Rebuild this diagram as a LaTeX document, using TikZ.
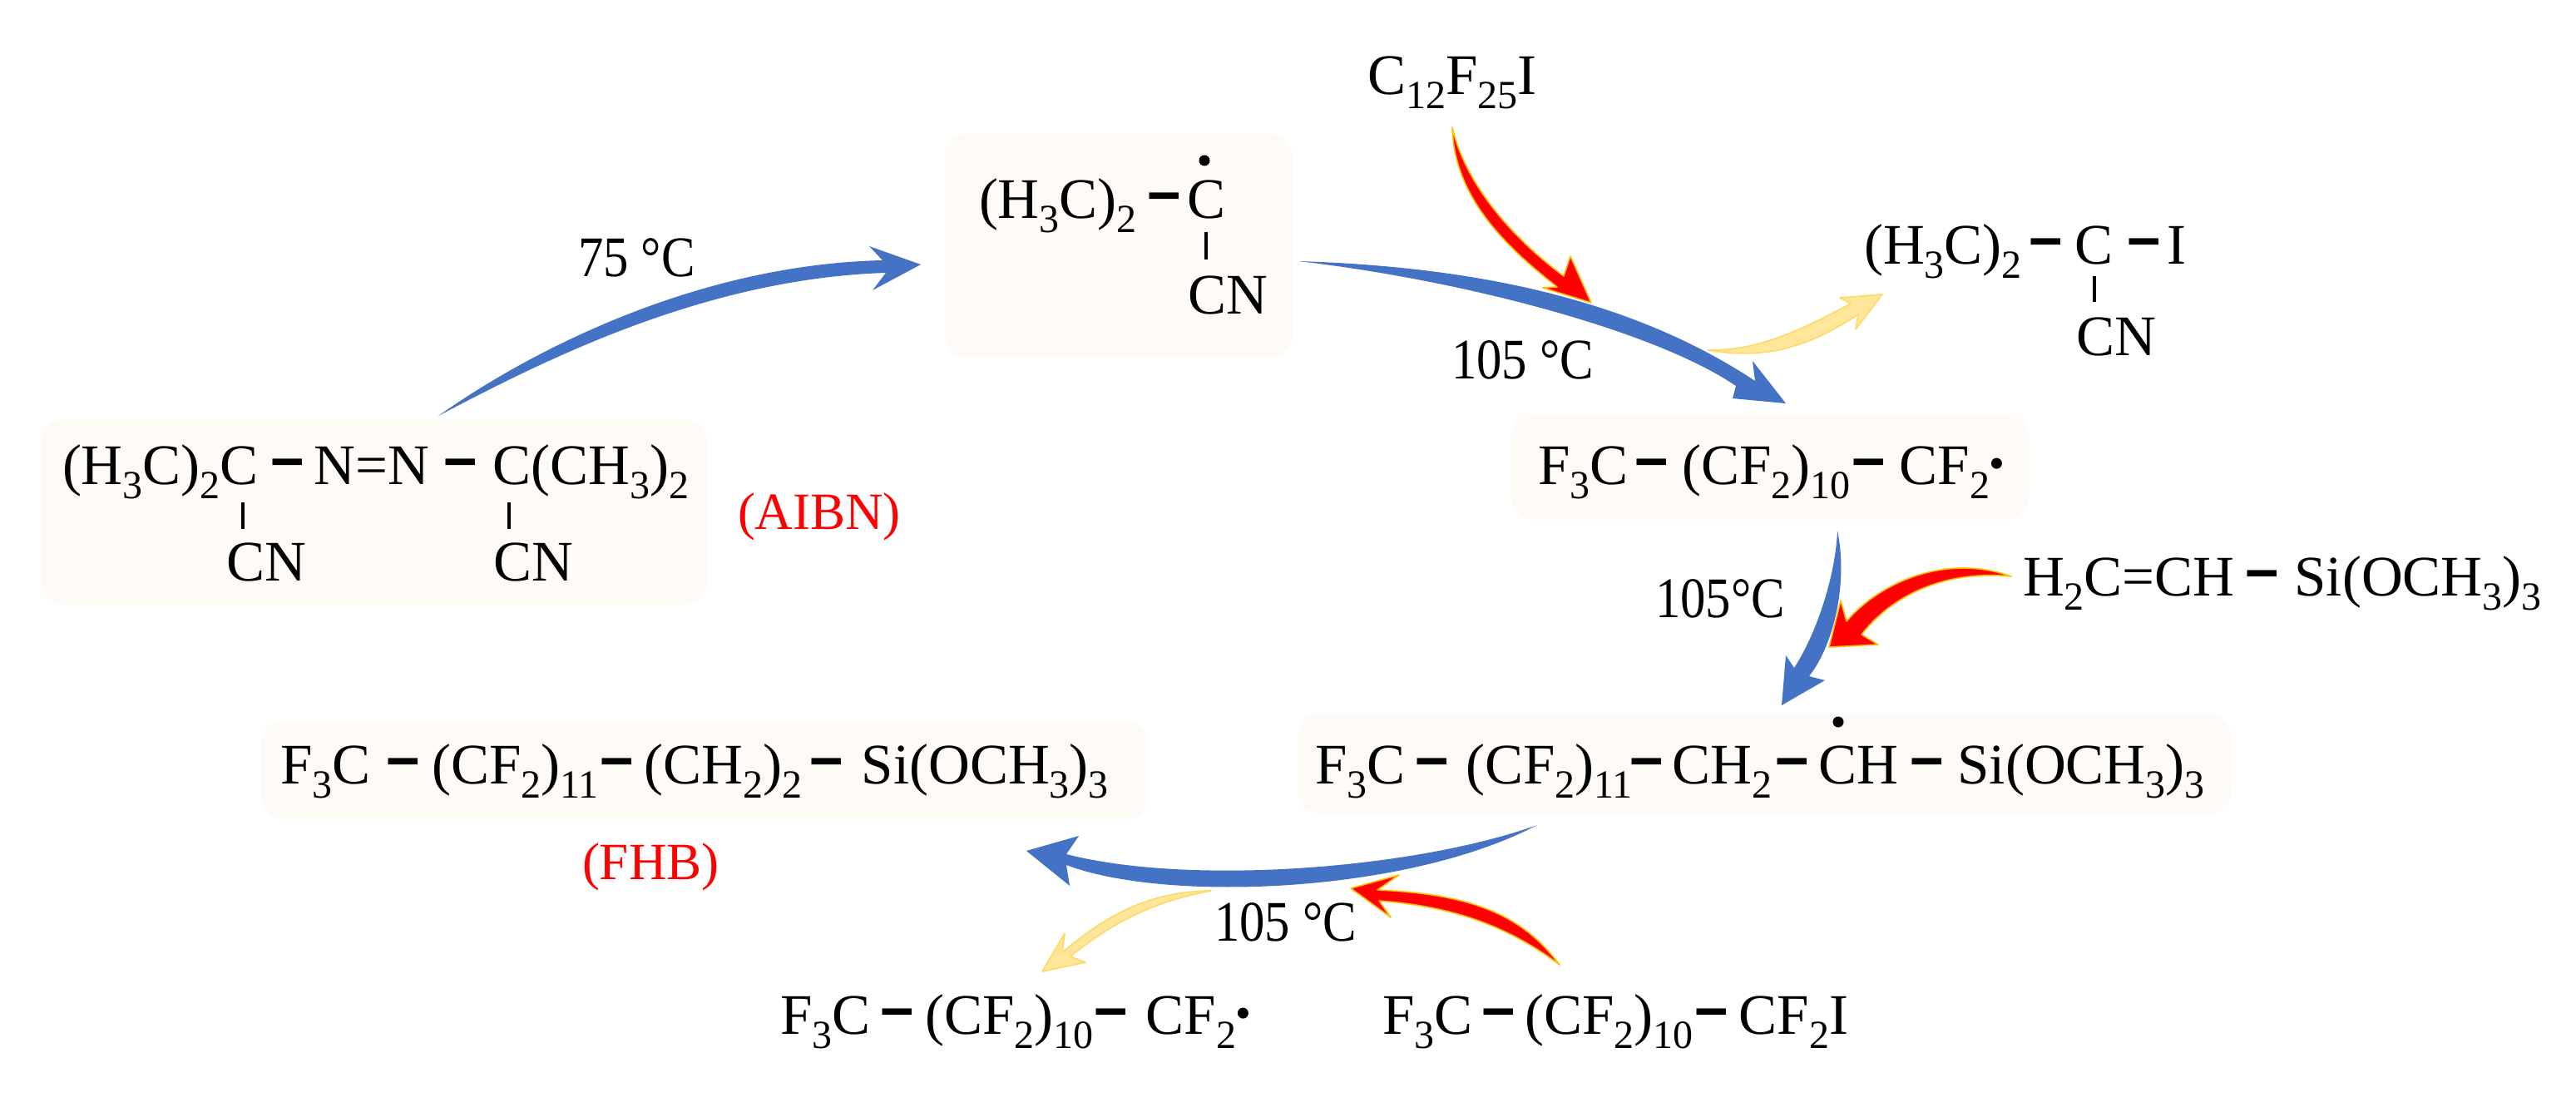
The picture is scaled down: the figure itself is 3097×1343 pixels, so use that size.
\documentclass[tikz,border=0pt]{standalone}
\usepackage{fontspec}
\usepackage{graphicx}
\setmainfont{Liberation Serif}
\newcommand{\sbs}[1]{\raisebox{-17pt}{\fontsize{48}{50}\selectfont #1}}
\newcommand{\bd}{\raisebox{1pt}{\scalebox{1}[1.6]{\textbf{–}}}}
\newcommand{\rdot}{\raisebox{9pt}{\fontsize{48}{50}\selectfont\textbf{•}}}
\newcommand{\tmp}[1]{\scalebox{.88}[1]{#1}}
\definecolor{boxc}{HTML}{FEFBF7}
\definecolor{bluea}{HTML}{4472C4}
\definecolor{yella}{HTML}{FFE699}
\definecolor{yellb}{HTML}{FFD966}
\definecolor{reda}{HTML}{FF0000}
\definecolor{redb}{HTML}{FFC000}
\tikzset{
 x=1pt,y=-1pt,
 box/.style={fill=boxc,draw=none,rounded corners=26pt},
 chem/.style={anchor=base west,inner sep=0pt,outer sep=0pt,font=\fontsize{69}{72}\selectfont},
 redlbl/.style={chem,text=red,font=\fontsize{63}{66}\selectfont},
 bond/.style={draw=black,line width=4.5pt},
 blueflow/.style={fill=bluea,draw=none},
 redflow/.style={fill=reda,draw=redb,line width=1.6pt,line join=round},
 yellflow/.style={fill=yella,draw=yellb,line width=1.6pt,line join=round},
 dotmark/.style={circle,fill=black,inner sep=0pt,minimum size=13pt},
}
\begin{document}
\begin{tikzpicture}
\useasboundingbox (0,0) rectangle (3097,1343);
% boxes
\fill[box] (50,504) rectangle (850,727);
\fill[box] (1136,161) rectangle (1554,430);
\fill[box] (1817,498) rectangle (2439,625);
\fill[box] (1560,858) rectangle (2682,978);
\fill[box] (314,867) rectangle (1380,985);
% AIBN
\node[chem] (aibn) at (75,582) {(H\sbs{3}C)\sbs{2}C\kern18pt\bd\kern14pt N=N\kern20pt\bd\kern21pt C(CH\sbs{3})\sbs{2}};
\node[chem] (cna) at (272,698) {CN};
\node[chem] (cnb) at (593,698) {CN};
\coordinate (ba1) at (292,604); \coordinate (ba2) at (292,636);
\coordinate (bb1) at (612,604); \coordinate (bb2) at (612,636);
\draw[bond] (ba1)--(ba2); \draw[bond] (bb1)--(bb2);
\node[redlbl] (lab1) at (887,636) {(AIBN)};
\node[chem] (t75) at (695,332) {\tmp{75 °C}};
% radical
\node[chem] (rad) at (1177,262) {(H\sbs{3}C)\sbs{2}\kern16pt\bd\kern10pt C};
\node[dotmark] (dot1) at (1448,193) {};
\coordinate (bc1) at (1450,279); \coordinate (bc2) at (1450,312);
\draw[bond] (bc1)--(bc2);
\node[chem] (cnc) at (1428,377) {CN};
% C12F25I
\node[chem] (cf) at (1644,114) {C\sbs{12}F\sbs{25}I};
\node[chem] (t105a) at (1745,455) {\tmp{105 °C}};
% iodide
\node[chem] (iod) at (2241,317) {(H\sbs{3}C)\sbs{2}\kern12pt\bd\kern17pt C\kern20pt\bd\kern10pt I};
\node[chem] (cnd) at (2496,427) {CN};
\coordinate (bd1) at (2518,332); \coordinate (bd2) at (2518,363);
\draw[bond] (bd1)--(bd2);
% F3C radical
\node[chem] (rf) at (1849,582) {F\sbs{3}C\kern11pt\bd\kern19pt(CF\sbs{2})\sbs{10}\kern5pt\bd\kern19pt CF\sbs{2}\rdot};
\node[chem] (t105b) at (1990,742) {\tmp{105°C}};
\node[chem] (vs) at (2432,716) {H\sbs{2}C=CH\kern16pt\bd\kern21pt Si(OCH\sbs{3})\sbs{3}};
% long radical
\node[chem] (lr) at (1581,942) {F\sbs{3}C\kern15pt\bd\kern23pt(CF\sbs{2})\sbs{11}\bd\kern13pt CH\sbs{2}\kern7pt\bd\kern14pt CH\kern17pt\bd\kern19pt Si(OCH\sbs{3})\sbs{3}};
\node[dotmark] (dot2) at (2210,868) {};
% FHB
\node[chem] (fhb) at (337,942) {F\sbs{3}C\kern22pt\bd\kern17pt(CF\sbs{2})\sbs{11}\kern5pt\bd\kern15pt(CH\sbs{2})\sbs{2}\kern12pt\bd\kern24pt Si(OCH\sbs{3})\sbs{3}};
\node[redlbl] (lab2) at (700,1057) {(FHB)};
\node[chem] (t105c) at (1460,1131) {\tmp{105 °C}};
\node[chem] (p1) at (938,1243) {F\sbs{3}C\kern15pt\bd\kern16pt(CF\sbs{2})\sbs{10}\kern4pt\bd\kern24pt CF\sbs{2}\rdot};
\node[chem] (p2) at (1662,1243) {F\sbs{3}C\kern14pt\bd\kern14pt(CF\sbs{2})\sbs{10}\kern5pt\bd\kern15pt CF\sbs{2}I};
% arrows
\coordinate (s1) at (527,500); \coordinate (e1) at (1107,318);
\fill[blueflow] (s1) .. controls (640,420) and (840,318) .. (1061,313) -- (1045,296) -- (e1) -- (1049,349) -- (1065,328) .. controls (850,335) and (660,430) .. (s1) -- cycle;
\coordinate (s2) at (1561,314); \coordinate (e2) at (2147,485);
\fill[blueflow] (s2) .. controls (1750,320) and (1950,352) .. (2110,458) -- (2107,434) -- (e2) -- (2083,479) -- (2087,464) .. controls (1990,398) and (1760,337) .. (s2) -- cycle;
\coordinate (s3) at (1746,153); \coordinate (e3) at (1913,364);
\draw[redflow] (s3) .. controls (1760,215) and (1810,280) .. (1880,332) -- (1888,308) -- (e3) -- (1855,346) -- (1872,345) .. controls (1815,300) and (1748,240) .. (s3) -- cycle;
\coordinate (s4) at (2053,421); \coordinate (e4) at (2263,354);
\draw[yellflow] (s4) .. controls (2110,422) and (2160,400) .. (2225,365) -- (2212,358) -- (e4) -- (2231,396) -- (2234,378) .. controls (2170,420) and (2120,432) .. (s4) -- cycle;
\coordinate (s5) at (2209,638); \coordinate (e5) at (2142,848);
\fill[blueflow] (s5) .. controls (2222,700) and (2205,775) .. (2175,813) -- (2194,818) -- (e5) -- (2147,788) -- (2157,803) .. controls (2185,760) and (2207,690) .. (s5) -- cycle;
\coordinate (s6) at (2418,693); \coordinate (e6) at (2199,778);
\draw[redflow] (s6) .. controls (2340,665) and (2260,700) .. (2220,747) -- (2213,722) -- (e6) -- (2258,775) -- (2238,763) .. controls (2275,715) and (2340,685) .. (s6) -- cycle;
\coordinate (s7) at (1848,992); \coordinate (e7) at (1234,1023);
\fill[blueflow] (s7) .. controls (1700,1045) and (1430,1065) .. (1282,1027) -- (1297,1005) -- (e7) -- (1286,1065) -- (1282,1040) .. controls (1400,1085) and (1690,1075) .. (s7) -- cycle;
\coordinate (s8) at (1456,1071); \coordinate (e8) at (1253,1168);
\draw[yellflow] (s8) .. controls (1370,1072) and (1320,1110) .. (1277,1145) -- (1280,1122) -- (e8) -- (1305,1157) -- (1287,1150) .. controls (1330,1115) and (1380,1085) .. (s8) -- cycle;
\coordinate (s9) at (1875,1160); \coordinate (e9) at (1624,1068);
\draw[redflow] (s9) .. controls (1830,1100) and (1770,1075) .. (1656,1070) -- (1682,1052) -- (e9) -- (1672,1103) -- (1658,1083) .. controls (1750,1090) and (1815,1115) .. (s9) -- cycle;
\end{tikzpicture}
\end{document}
